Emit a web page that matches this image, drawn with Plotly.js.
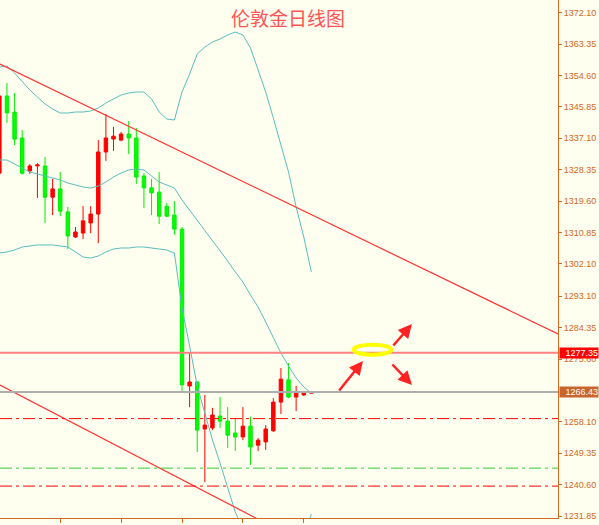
<!DOCTYPE html>
<html><head><meta charset="utf-8">
<script src="https://cdn.plot.ly/plotly-3.0.1.min.js"></script>
<style>html,body{margin:0;padding:0;background:#FFFFF0;}#chart{width:600px;height:525px;}</style>
</head><body><div id="chart"></div>
<script>
// bar index (daily bars incl. Sunday bars)
const bars = [0,1,2,3,4,5,6,7,8,9,10,11,12,13,14,15,16,17,18,19,20,21,22,23,24,25,26,27,28,29,30,31,32,33,34,35,36,37,38,39,40,41];
const open  = [1327.4,1348.9,1344.4,1337.2,1328.0,1329.4,1329.4,1320.7,1323.0,1316.6,1309.6,1310.7,1313.5,1316.0,1333.3,1336.9,1336.6,1338.3,1337.2,1326.6,1323.3,1322.1,1318.2,1315.7,1311.8,1268.1,1269.2,1256.1,1256.4,1259.7,1258.3,1255.0,1253.9,1256.9,1251.6,1252.5,1255.6,1263.6,1269.8,1265.0,1265.6,1266.1];
const high  = [1350.6,1352.5,1349.7,1339.4,1329.9,1330.2,1331.9,1325.8,1327.7,1318.0,1312.4,1318.2,1318.2,1336.6,1343.9,1340.3,1338.9,1341.9,1340.0,1327.4,1325.8,1327.7,1319.1,1319.6,1312.4,1277.3,1269.4,1265.6,1262.0,1265.0,1262.2,1259.2,1262.2,1259.5,1253.6,1257.2,1264.7,1273.1,1274.5,1268.1,1266.6,1266.5];
const low   = [1326.5,1341.4,1335.2,1327.0,1327.2,1320.5,1313.5,1315.7,1315.4,1306.3,1309.4,1309.0,1310.7,1307.9,1330.8,1333.6,1336.3,1332.7,1324.4,1317.7,1315.7,1313.2,1315.2,1310.2,1266.4,1262.2,1249.7,1241.3,1255.8,1256.4,1250.8,1250.0,1253.0,1246.1,1250.0,1250.3,1255.3,1260.3,1264.7,1261.1,1265.3,1266.0];
const close = [1348.9,1344.2,1336.9,1327.4,1329.4,1329.7,1320.7,1323.0,1316.8,1309.9,1311.0,1314.1,1316.0,1333.3,1337.2,1337.7,1338.3,1337.2,1326.3,1323.3,1321.9,1315.4,1315.4,1311.8,1268.4,1269.2,1255.8,1257.2,1260.0,1258.3,1254.4,1253.9,1256.9,1251.1,1253.0,1256.1,1263.6,1270.0,1265.0,1266.4,1266.4,1266.43];

// Bollinger bands
const bbUpper  = [1356.97,1357.25,1355.30,1352.79,1350.56,1348.61,1346.66,1345.27,1344.15,1344.15,1344.43,1344.43,1344.71,1345.55,1346.94,1348.06,1349.17,1349.73,1350.01,1350.01,1348.06,1344.43,1342.48,1342.20,1350.01,1355.02,1360.59,1362.54,1363.94,1364.77,1365.89,1366.72,1365.89,1362.27,1356.14,1350.01,1342.76,1334.96,1327.72,1317.96,1309.61,1299.85];
const bbMiddle = [1331.06,1331.06,1329.94,1328.83,1327.72,1327.16,1326.60,1326.04,1325.49,1324.65,1324.09,1323.54,1323.26,1323.81,1324.93,1326.32,1327.44,1328.27,1328.55,1328.27,1326.60,1324.93,1324.09,1323.26,1319.91,1317.13,1314.34,1311.56,1308.49,1305.70,1302.92,1299.85,1297.07,1293.44,1290.10,1285.92,1281.46,1277.28,1273.66,1270.32,1267.81,1266.14];
const bbLower  = [1305.15,1305.43,1305.98,1306.82,1307.10,1307.38,1307.38,1307.38,1307.10,1306.82,1305.43,1304.03,1303.75,1304.31,1305.43,1306.26,1306.54,1306.54,1306.82,1306.82,1306.54,1306.26,1305.98,1305.15,1289.82,1279.23,1268.09,1260.57,1253.04,1246.63,1239.95,1232.98,1228.24,1224.62,1224.07,1221.84,1220.16,1219.61,1219.61,1222.67,1226.02,1232.42];

// axis ticks
const yTickVals = [1372.10,1363.35,1354.60,1345.85,1337.10,1328.35,1319.60,1310.85,1302.10,1293.10,1284.35,1275.60,1258.10,1249.35,1240.60,1231.85];
const yTickText = ['1372.10','1363.35','1354.60','1345.85','1337.10','1328.35','1319.60','1310.85','1302.10','1293.10','1284.35','1275.60','1258.10','1249.35','1240.60','1231.85'];
const xTickPos  = [0.1,8,16,24,32,40];
const xTickText = ['6 Sep 2016','15 Sep 2016','25 Sep 2016','4 Oct 2016','13 Oct 2016','23 Oct 2016'];

// analyst drawings
const trendAX = [0.084,73.41], trendAY = [1357.81,1282.58];
const trendBX = [0.084,39.5],  trendBY = [1268.37,1224.9];
const resistLevel = 1277.35;
const lastPrice = 1266.43;
const redDashLevels = [1259.0,1240.2];
const greenDashLevels = [1245.2];
const ellipseX = [46.56,51.50], ellipseY = [1276.81,1279.60];
const arrowTailX = [44.50,51.60,51.46], arrowTailY = [1266.42,1278.95,1274.50];
const arrowHeadX = [47.78,54.22,54.22], arrowHeadY = [1275.05,1285.36,1268.37];

const axisColor = '#D2691E';
const font = 'Liberation Sans, Arial, sans-serif';

const data = [
  {type:'candlestick', x:bars, open:open, high:high, low:low, close:close,
   increasing:{line:{color:'#FF0000',width:1}, fillcolor:'#FF0000'},
   decreasing:{line:{color:'#00EE00',width:1}, fillcolor:'#00FF00'},
   whiskerwidth:0, hoverinfo:'skip', showlegend:false},
  {type:'scatter', mode:'lines', x:bars, y:bbUpper, line:{color:'#5BBDBD',width:1}, hoverinfo:'skip'},
  {type:'scatter', mode:'lines', x:bars, y:bbMiddle, line:{color:'#5BBDBD',width:1}, hoverinfo:'skip'},
  {type:'scatter', mode:'lines', x:bars, y:bbLower, line:{color:'#5BBDBD',width:1}, hoverinfo:'skip'}
];

const shapes = [
  {type:'line', xref:'x', yref:'y', x0:trendAX[0], x1:trendAX[1], y0:trendAY[0], y1:trendAY[1], line:{color:'#FF3333',width:1.2}},
  {type:'line', xref:'x', yref:'y', x0:trendBX[0], x1:trendBX[1], y0:trendBY[0], y1:trendBY[1], line:{color:'#FF3333',width:1.2}},
  {type:'line', xref:'paper', yref:'y', x0:0, x1:1, y0:resistLevel, y1:resistLevel, line:{color:'#FF8080',width:2}},
  {type:'line', xref:'paper', yref:'y', x0:0, x1:1, y0:lastPrice, y1:lastPrice, line:{color:'#ADADAD',width:2}},
  {type:'circle', xref:'x', yref:'y', x0:ellipseX[0], x1:ellipseX[1], y0:ellipseY[0], y1:ellipseY[1], line:{color:'#FFFF00',width:4}},
  {type:'line', xref:'paper', yref:'paper', x0:1.0744, x1:1.0744, y0:-0.02, y1:1, line:{color:'#D6D6CC',width:1}}
];
redDashLevels.forEach(v => shapes.push({type:'line', xref:'paper', yref:'y', x0:0, x1:1, y0:v, y1:v, line:{color:'#FF0000',width:1,dash:'12px,4px,3px,4px'}}));
greenDashLevels.forEach(v => shapes.push({type:'line', xref:'paper', yref:'y', x0:0, x1:1, y0:v, y1:v, line:{color:'#33CC33',width:1,dash:'12px,4px,3px,4px'}}));

const annotations = [
  {xref:'paper', yref:'paper', x:0.516, y:0.967, xanchor:'center', yanchor:'middle', text:'伦敦金日线图', showarrow:false,
   font:{family:'Noto Sans CJK SC', size:19, color:'#FF5555'}},
  {xref:'paper', yref:'y', x:1, xanchor:'left', xshift:1, y:resistLevel, yanchor:'middle', text:'1277.35', showarrow:false,
   bgcolor:'#FF0000', font:{family:font, size:9, color:'#FFFFFF'}, width:38, height:10, borderpad:0, align:'right'},
  {xref:'paper', yref:'y', x:1, xanchor:'left', xshift:1, y:lastPrice, yanchor:'middle', text:'1266.43', showarrow:false,
   bgcolor:'#C8652C', font:{family:font, size:9, color:'#FFFFFF'}, width:38, height:10, borderpad:0, align:'right'}
];
xTickPos.forEach((p,i) => annotations.push({xref:'x', yref:'paper', x:p, y:0, xanchor:'left', yanchor:'top', xshift:2, yshift:-4,
  text:xTickText[i], showarrow:false, font:{family:font, size:9, color:axisColor}}));
arrowHeadX.forEach((hx,i) => annotations.push({xref:'x', yref:'y', x:hx, y:arrowHeadY[i], axref:'x', ayref:'y', ax:arrowTailX[i], ay:arrowTailY[i],
  text:'', showarrow:true, arrowhead:2, arrowsize:1.1, arrowwidth:2.5, arrowcolor:'#FF2222', standoff:0, startstandoff:0}));

const layout = {
  width:600, height:525,
  margin:{l:0, r:42, t:0, b:7, pad:0},
  paper_bgcolor:'#FFFFF0', plot_bgcolor:'#FFFFF0',
  showlegend:false, boxgap:0.35,
  xaxis:{type:'linear', range:[0.084,73.41], showgrid:false, zeroline:false, showline:true, linecolor:axisColor, linewidth:1,
         ticks:'outside', ticklen:4, tickcolor:axisColor, tickvals:[0,8,16,24,32,40], showticklabels:false,
         rangeslider:{visible:false}},
  yaxis:{side:'right', range:[1231.31,1375.64], showgrid:false, zeroline:false, showline:true, linecolor:axisColor, linewidth:1,
         ticks:'outside', ticklen:3, tickcolor:axisColor, tickvals:yTickVals, ticktext:yTickText,
         tickfont:{family:font, size:9, color:axisColor}},
  shapes:shapes, annotations:annotations
};
Plotly.newPlot('chart', data, layout, {staticPlot:true, displayModeBar:false});
</script></body></html>
